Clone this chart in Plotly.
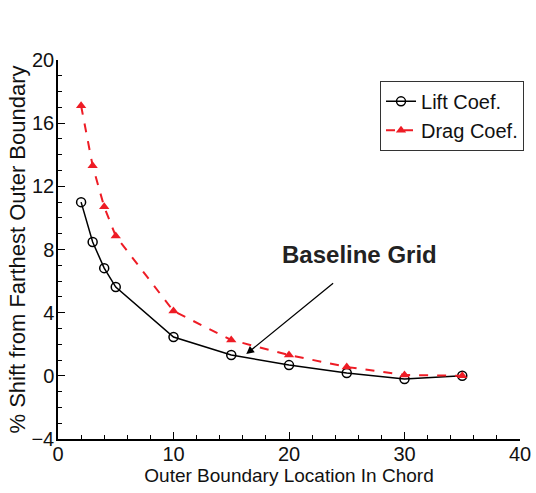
import plotly.graph_objects as go

x_vals = [2, 3, 4, 5, 10, 15, 20, 25, 30, 35]
lift = [11.0, 8.47, 6.82, 5.62, 2.46, 1.32, 0.68, 0.18, -0.2, 0.0]
drag = [17.1, 13.3, 10.7, 8.85, 4.1, 2.27, 1.32, 0.56, 0.05, 0.0]
x_ticks = [0, 10, 20, 30, 40]
y_ticks = [-4, 0, 4, 8, 12, 16, 20]

FONT = "Liberation Sans, Arial"

fig = go.Figure()
fig.add_trace(go.Scatter(
    x=x_vals, y=lift, name="Lift Coef.", mode="lines+markers",
    line=dict(color="black", width=1.5),
    marker=dict(symbol="circle-open", size=9, color="black", line=dict(width=1.5)),
))
fig.add_trace(go.Scatter(
    x=x_vals, y=drag, name="Drag Coef.", mode="lines+markers",
    line=dict(color="#ee1c25", width=2, dash="dash"),
    marker=dict(symbol="triangle-up", size=9, color="#ee1c25"),
))

fig.add_annotation(
    x=16.3, y=1.38, ax=23.95, ay=5.94, xref="x", yref="y", axref="x", ayref="y",
    text="", showarrow=True, arrowhead=2, arrowsize=1.2, arrowwidth=1.3, arrowcolor="black",
)
fig.add_annotation(
    x=26.1, y=7.7, xref="x", yref="y", text="<b>Baseline Grid</b>", showarrow=False,
    font=dict(family=FONT, size=24, color="#222"),
)

axis_common = dict(
    showline=True, linecolor="black", linewidth=1.5, ticks="inside", ticklen=7,
    tickcolor="black", tickwidth=1, showgrid=False, zeroline=False, mirror=False,
    tickfont=dict(family=FONT, size=20, color="#111"), automargin=False,
)
fig.update_xaxes(
    range=[0, 40], tickvals=x_ticks, ticklabelstandoff=-4,
    minor=dict(ticks="inside", ticklen=4, dtick=2, tickcolor="black"),
    title=dict(text="Outer Boundary Location In Chord", standoff=0,
               font=dict(family=FONT, size=19, color="#111")),
    **axis_common,
)
fig.update_yaxes(
    range=[-4, 20], tickvals=y_ticks, ticklabelstandoff=-2,
    minor=dict(ticks="inside", ticklen=4, dtick=1, tickcolor="black"),
    title=dict(text="% Shift from Farthest Outer Boundary", standoff=0,
               font=dict(family=FONT, size=22, color="#111")),
    **axis_common,
)

fig.update_layout(
    width=536, height=493,
    margin=dict(l=58, r=12, t=60, b=54),
    plot_bgcolor="white", paper_bgcolor="white",
    showlegend=True,
    legend=dict(
        x=0.697, y=0.945, xanchor="left", yanchor="top",
        bordercolor="#333", borderwidth=1, bgcolor="white",
        font=dict(family=FONT, size=20, color="#111"),
        tracegroupgap=0, itemwidth=30,
    ),
)

fig.write_html("out.html", config={"displayModeBar": False},
               post_script="document.body.style.margin='0';")
